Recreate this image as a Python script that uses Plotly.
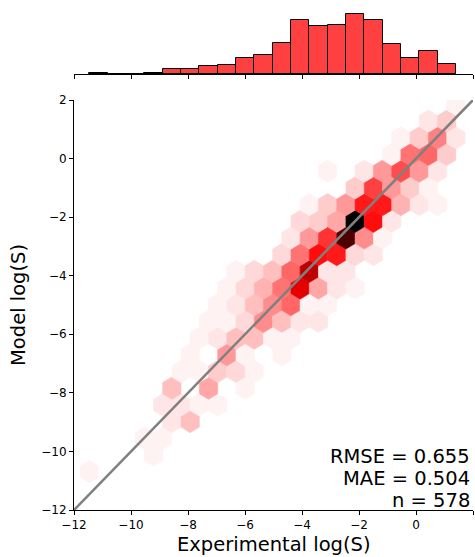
import plotly.graph_objects as go
from plotly.colors import sample_colorscale

# ---------------- data ----------------
x_ticks = [-12, -10, -8, -6, -4, -2, 0, 2]
y_ticks = [-12, -10, -8, -6, -4, -2, 0, 2]

# marginal histogram of experimental log(S): 20 equal bins over the data range
hist_xmin = -11.46
hist_xmax = 1.40
hist_counts = [1, 0, 0, 2, 7, 7, 11, 12, 21, 25, 41, 71, 63, 64, 79, 71, 39, 21, 30, 13]

# hexbin (gridsize 20) over the data extent
hex_xmin, hex_xmax = -11.46, 1.40
hex_ymin, hex_ymax = -10.69, 1.85
hex_nx, hex_ny = 20, 11

# hexagon cells: lattice row (even = main lattice, odd = offset lattice), column, count
hex_row = [0,
           1,
           2, 2,
           3, 3,
           4, 4, 4, 4,
           5, 5, 5,
           6, 6, 6, 6, 6,
           7, 7, 7, 7,
           8, 8, 8, 8, 8, 8,
           9, 9, 9, 9, 9, 9, 9,
           10, 10, 10, 10, 10, 10, 10,
           11, 11, 11, 11, 11, 11, 11, 11,
           12, 12, 12, 12, 12, 12, 12,
           13, 13, 13, 13, 13, 13,
           14, 14, 14, 14, 14, 14,
           15, 15, 15, 15, 15, 15,
           16, 16, 16, 16, 16, 16, 16, 16,
           17, 17, 17, 17, 17,
           18, 18, 18, 18, 18, 18,
           19, 19, 19, 19,
           20, 20, 20, 20,
           21, 21,
           22]
hex_col = [0,
           3,
           3, 4,
           4, 5,
           4, 5, 6, 7,
           4, 6, 8,
           5, 6, 7, 8, 9,
           5, 7, 8, 10,
           6, 7, 8, 9, 10, 11,
           6, 7, 8, 9, 10, 11, 12,
           7, 8, 9, 10, 11, 12, 13,
           7, 8, 9, 10, 11, 12, 13, 14,
           8, 9, 10, 11, 12, 13, 14,
           10, 11, 12, 13, 14, 15,
           11, 12, 13, 14, 15, 16,
           11, 12, 13, 14, 15, 16,
           12, 13, 14, 15, 16, 17, 18, 19,
           14, 15, 16, 17, 18,
           13, 15, 16, 17, 18, 19,
           16, 17, 18, 19,
           17, 18, 19, 20,
           18, 19,
           20]
hex_count = [1,
             1,
             1, 1,
             2, 5,
             2, 2, 1, 1,
             5, 7, 1,
             1, 1, 4, 3, 1,
             1, 8, 1, 1,
             1, 2, 5, 5, 1, 1,
             1, 1, 3, 9, 5, 2, 2,
             1, 2, 5, 9, 12, 1, 1,
             1, 3, 6, 11, 22, 7, 2, 1,
             1, 3, 5, 12, 25, 2, 2,
             3, 11, 19, 18, 3, 2,
             2, 8, 16, 34, 9, 1,
             3, 4, 7, 40, 19, 2,
             1, 4, 8, 18, 18, 6, 2, 1,
             4, 15, 8, 4, 1,
             1, 2, 8, 14, 8, 2,
             1, 11, 12, 4,
             1, 4, 10, 2,
             2, 4,
             1]

parity_line = [-12, 2]
stats_text = ["RMSE = 0.655", "MAE = 0.504", "n = 578"]

# ---------------- figure ----------------
FONT = "DejaVu Sans"
fig = go.Figure()

cscale = [[0.0, "rgb(255,255,255)"], [0.5, "rgb(255,0,0)"], [1.0, "rgb(0,0,0)"]]
cmax = max(hex_count)
sx = (hex_xmax - hex_xmin) / hex_nx
sy = (hex_ymax - hex_ymin) / hex_ny
hex_shape = [(0.5, -0.5), (0.5, 0.5), (0.0, 1.0), (-0.5, 0.5), (-0.5, -0.5), (0.0, -1.0), (0.5, -0.5)]

for r, c, n in zip(hex_row, hex_col, hex_count):
    if r % 2 == 0:
        cx = hex_xmin + c * sx
        cy = hex_ymin + (r // 2) * sy
    else:
        cx = hex_xmin + (c + 0.5) * sx
        cy = hex_ymin + (r // 2 + 0.5) * sy
    col = sample_colorscale(cscale, [n / cmax])[0]
    fig.add_trace(go.Scatter(
        x=[cx + a * sx for a, b in hex_shape],
        y=[cy + b * sy / 3 for a, b in hex_shape],
        mode="lines", fill="toself", fillcolor=col,
        line=dict(color=col, width=0.6),
        hoverinfo="skip", xaxis="x", yaxis="y"))

fig.add_trace(go.Scatter(x=parity_line, y=parity_line, mode="lines",
                         line=dict(color="rgb(128,128,128)", width=2.6),
                         xaxis="x", yaxis="y", hoverinfo="skip"))

bw = (hist_xmax - hist_xmin) / len(hist_counts)
fig.add_trace(go.Bar(
    x=[hist_xmin + (k + 0.5) * bw for k in range(len(hist_counts))],
    y=hist_counts, width=bw,
    marker=dict(color="rgb(255,64,64)", line=dict(color="black", width=1)),
    xaxis="x2", yaxis="y2", hoverinfo="skip"))

axis_common = dict(showgrid=False, zeroline=False, showline=True, linecolor="black",
                   linewidth=1, ticks="outside", ticklen=4, tickwidth=1, tickcolor="black",
                   tickfont=dict(family=FONT, size=12, color="black"))

fig.update_layout(
    width=475, height=557,
    margin=dict(l=74, r=2, t=11, b=47),
    paper_bgcolor="white", plot_bgcolor="white",
    showlegend=False, bargap=0,
    font=dict(family=FONT, size=12, color="black"),
    xaxis=dict(domain=[0, 1], range=[-12, 2], tickvals=x_ticks, anchor="y", **axis_common),
    yaxis=dict(domain=[0, 0.8216], range=[-12, 2], tickvals=y_ticks, anchor="x", **axis_common),
    xaxis2=dict(domain=[0, 1], range=[-12, 2], tickvals=x_ticks, anchor="y2",
                showticklabels=False, **axis_common),
    yaxis2=dict(domain=[0.8737, 1], range=[0, 83], visible=False, anchor="x2"),
)

annots = [
    dict(text="Experimental log(S)", x=0.5, y=-0.0701, xref="paper", yref="paper",
         xanchor="center", yanchor="middle", showarrow=False,
         font=dict(family=FONT, size=19.5, color="black")),
    dict(text="Model log(S)", x=-0.1404, y=0.4108, xref="paper", yref="paper",
         xanchor="center", yanchor="middle", showarrow=False, textangle=-90,
         font=dict(family=FONT, size=19.5, color="black")),
]
for txt, yy in zip(stats_text, [0.1082, 0.0641, 0.020]):
    annots.append(dict(text=txt, x=0.9967, y=yy, xref="paper", yref="paper",
                       xanchor="right", yanchor="middle", showarrow=False,
                       font=dict(family=FONT, size=19.5, color="black")))
fig.update_layout(annotations=annots)

fig.write_html("out.html", config={"displayModeBar": False},
               post_script="document.body.style.margin='0';document.body.style.overflow='hidden';")
